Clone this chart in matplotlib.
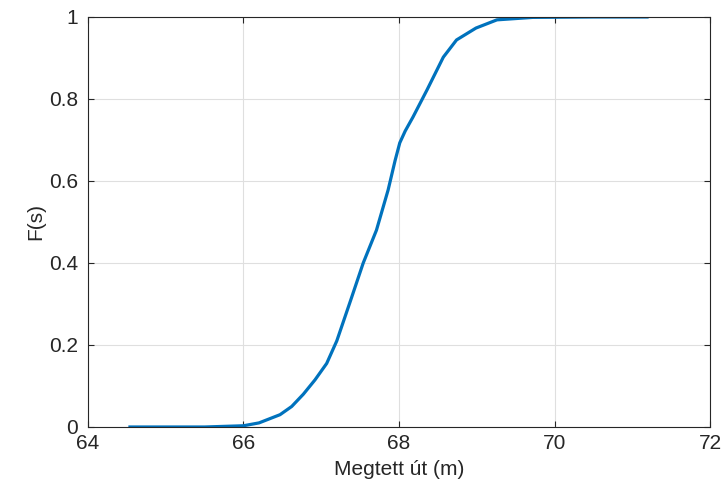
import matplotlib
matplotlib.use("Agg")
import matplotlib.pyplot as plt

# empirical CDF of travelled distance
distance = [64.54, 65.0, 65.5, 66.0, 66.2, 66.47, 66.62, 66.77, 66.92, 67.07,
            67.20, 67.38, 67.54, 67.71, 67.86, 67.95, 68.01, 68.08, 68.18, 68.36,
            68.57, 68.74, 68.99, 69.26, 69.72, 70.5, 71.19]
cdf = [0.0, 0.0, 0.0, 0.003, 0.01, 0.03, 0.05, 0.08, 0.115, 0.155,
       0.21, 0.31, 0.40, 0.48, 0.578, 0.65, 0.693, 0.722, 0.756, 0.822,
       0.902, 0.944, 0.973, 0.993, 0.999, 1.0, 1.0]

plt.rcParams["font.family"] = ["Liberation Sans", "DejaVu Sans"]

fig = plt.figure(figsize=(7.24, 4.95), dpi=100)
ax = fig.add_axes([0.1215, 0.1374, 0.8592, 0.8283])

ax.plot(distance, cdf, color="#0072BD", linewidth=2.3)

ax.set_xlim(64, 72)
ax.set_ylim(0, 1)
ax.set_xticks([64, 66, 68, 70, 72])
ax.set_yticks([0, 0.2, 0.4, 0.6, 0.8, 1])
ax.set_yticklabels(["0", "0.2", "0.4", "0.6", "0.8", "1"])
ax.grid(True, color="#dfdfdf", linewidth=0.8)
ax.set_axisbelow(True)

for s in ax.spines.values():
    s.set_color("#262626")
    s.set_linewidth(0.8)
ax.tick_params(direction="in", length=4, colors="#262626", labelsize=15,
               top=True, right=True)
ax.tick_params(axis="x", pad=5)
ax.tick_params(axis="y", pad=7)
ax.set_xlabel("Megtett út (m)", fontsize=15, color="#262626", labelpad=5)
ax.set_ylabel("F(s)", fontsize=15, color="#262626", labelpad=3)

fig.savefig("out.png", dpi=100)
